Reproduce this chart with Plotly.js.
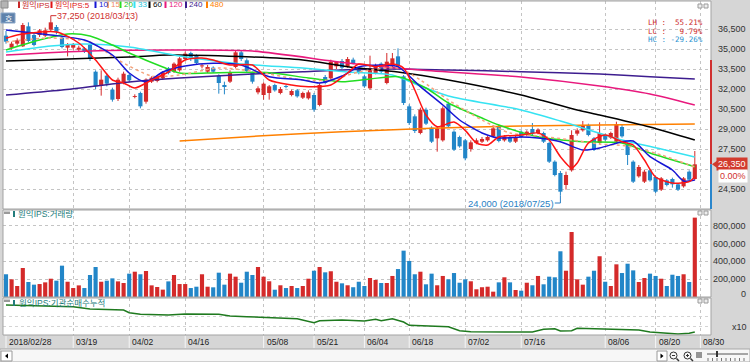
<!DOCTYPE html>
<html><head><meta charset="utf-8">
<script src="https://cdn.plot.ly/plotly-3.0.1.min.js"></script>
<style>html,body{margin:0;padding:0;background:#fff;}#chart{width:750px;height:362px;}</style>
</head><body><div id="chart"></div>
<script>
// ---------- data ----------
const openP = [36000,35100,35400,35200,36700,36050,36050,36000,36450,36650,
35850,35100,35100,34950,35050,35300,33300,32300,33000,31950,
31250,32450,33050,31400,31700,31050,32550,32600,32800,33550,
33300,33400,34250,34700,34500,33700,33300,33600,33000,32300,
32550,33650,34750,34150,33200,31750,31550,31700,32300,31700,
32200,31550,31900,31350,31300,31550,30800,32900,32800,33700,
34100,33700,34200,33550,32950,32050,33200,33900,32450,33700,
34450,32950,30700,29950,28700,30450,29100,28300,28150,30900,
28800,28400,28150,27500,27950,28050,28150,28450,29200,28150,
28400,28050,28800,28550,29000,28700,28700,27950,26550,25700,
24800,25900,28650,28900,29300,28300,27950,28550,28350,28050,
29150,27900,26550,25450,25050,25900,25400,24450,25150,25250,
24850,24700,25800,25250];
const highP = [36350,35550,35800,36950,37000,36200,36500,36600,37250,36800,
36000,35450,35450,35250,35150,35400,33400,33400,33150,32100,
32850,33300,33150,31600,31800,32800,32950,33000,33350,33650,
34000,34400,34800,34800,34600,33900,33800,33700,33100,32550,
33400,34850,34900,34300,33300,32200,32500,32300,32400,32150,
32300,31950,32000,31800,31900,31700,32450,33050,34200,34100,
34250,34400,34350,33650,33050,34500,33900,34000,34700,34700,
35050,33050,30850,30100,30600,30600,29200,29200,30700,31050,
28900,28500,28250,28150,28300,28400,28500,29300,29300,28550,
28500,28500,28900,28900,29450,29050,28800,28050,26650,25850,
25800,28900,29050,29600,29400,28400,29500,28650,28800,29550,
29300,28000,26650,26300,25950,26000,25500,25400,25250,25350,
24950,25400,25900,27350];
const lowP = [35400,34950,35250,35150,35500,35200,35900,35900,36350,36100,
35050,34450,34950,34850,34700,34100,32000,31500,32200,31050,
31100,32350,32500,31300,30550,30900,32450,32500,32700,33100,
33200,33300,34150,34100,33800,33550,33200,33200,31650,31600,
32450,33550,34100,33200,32400,31600,31200,31200,31800,31600,
32050,31450,31350,31250,31200,30300,30700,32350,32700,33500,
33500,33600,33850,33100,32100,31950,33100,33200,32350,33600,
33600,30800,29300,28700,28600,29300,27950,27300,28050,29100,
27350,27600,26650,27300,27850,27950,28050,28350,28000,28050,
27950,27950,28300,28450,28550,28600,27950,26450,25450,24000,
24450,25800,28500,28800,28450,27350,27850,28100,28250,27900,
28350,26300,24950,25350,24950,25050,24200,24350,24700,24600,
24350,24600,25100,25150];
const closeP = [35550,35400,35650,36800,35600,35300,36400,36400,37000,36300,
35150,35300,35300,35100,34800,34250,32200,32700,32400,31200,
32700,33150,32650,31450,30700,32700,32850,32900,33250,33200,
33900,34300,34650,34300,33950,33750,33650,33300,32450,32150,
33250,34750,34250,33350,32550,32050,32400,32200,31900,32000,
32150,31850,31450,31700,31750,30450,32300,32450,34050,34050,
33600,34250,33950,33200,32200,33550,33800,33300,34050,34300,
33700,30950,29450,28850,30450,29400,28050,29050,30550,29200,
27450,27700,26800,28000,28150,28250,28400,29050,28100,28450,
28050,28400,28400,28800,28650,28950,28050,26550,25550,24300,
25550,28550,28900,29300,28550,27450,28700,28200,28700,29350,
28450,27050,25050,26150,25800,25150,24300,25300,24800,24850,
24450,25300,25200,26350];
const volume = [256000,199000,124000,327000,169000,139000,146000,165000,206000,184000,
353000,172000,101000,131000,101000,248000,338000,172000,184000,210000,
176000,158000,263000,285000,256000,293000,131000,113000,83000,176000,
248000,146000,146000,101000,116000,256000,116000,109000,274000,139000,
263000,229000,161000,285000,248000,338000,229000,177000,82000,132000,
101000,124000,101000,124000,206000,296000,338000,278000,290000,172000,
154000,132000,110000,172000,124000,214000,192000,158000,158000,237000,
315000,522000,406000,256000,285000,143000,263000,132000,237000,199000,
270000,161000,199000,177000,87000,110000,116000,60000,165000,222000,
165000,79000,71000,161000,132000,237000,143000,229000,222000,515000,
296000,732000,199000,139000,229000,296000,459000,172000,124000,368000,
270000,375000,300000,169000,214000,263000,237000,206000,124000,251000,
237000,256000,169000,894000];

// moving-average lines, read at sample days
const ma5Idx = [0,2,9,13,16,19,21,23,26,29,32,35,37,40,44,47,51,54,58,61,63,66,69,71,73,75,77,80,82,84,86,88,92,95,97,99,101,102,104,107,110,112,114,116,119,122,123];
const ma5Val = [35800,36050,36275,35450,34175,32675,32450,32075,32675,33275,34175,34325,34175,33800,33800,32675,32300,32175,32300,33200,33875,33675,33875,33575,31925,30050,29175,29525,28900,27950,27800,28400,28550,28700,28175,26925,26075,26450,27950,28550,28050,27800,26675,25400,24950,25050,25400];
const ma10Idx = [0,8,14,19,22,25,28,32,37,42,47,53,56,60,63,67,70,74,78,81,85,88,92,95,99,103,106,110,112,115,119,121,123];
const ma10Val = [36425,36050,35675,34550,33200,32525,33275,33725,33925,33800,32925,32675,32450,32975,33650,33800,33675,32175,30800,29675,28700,28325,28400,28325,28050,27425,27575,28050,28100,26925,25925,25100,25175];
const ma15Idx = [0,8,15,20,26,31,38,45,53,58,63,70,74,79,85,90,95,101,106,111,117,123];
const ma15Val = [35525,35825,35525,34175,32975,33050,33575,33275,32675,32675,33275,33575,32675,31175,29675,28700,28475,28175,27875,27725,27050,26150];
const ma20Idx = [0,6,11,15,19,22,28,31,38,47,54,60,65,70,75,79,85,88,95,103,110,115,123];
const ma20Val = [34925,35675,36125,35975,35300,34700,33650,33200,33225,33225,32825,32550,32750,32925,32075,30950,29825,29300,28425,28050,27950,27200,26175];
const ma33Idx = [0,8,14,22,31,42,53,61,69,74,79,92,99,110,117,123];
const ma33Val = [34775,35225,35375,35150,34475,33875,33575,33275,33050,32225,31475,30425,29600,28175,27500,26900];
const ma60Idx = [0,22,29,44,53,61,70,79,92,102,106,115,123];
const ma60Val = [34100,34400,34550,34400,34175,33675,33275,32675,31550,30425,30050,29150,28175];
const ma120Idx = [0,15,31,44,61,74,92,106,115,123];
const ma120Val = [34550,34850,34925,34850,33950,33425,32900,32225,31625,30800];
const ma240Idx = [0,10,22,31,44,53,61,70,79,92,106,115,123];
const ma240Val = [31550,31925,32525,32825,33125,33300,33450,33500,33425,33300,33125,32925,32750];
const ma480Idx = [31,45,60,76,92,106,123];
const ma480Val = [28100,28475,28800,29050,29225,29300,29375];

// institutional cumulative net buying (arbitrary units, x10)
const invIdx = [0,12,15,21,22,24,29,32,38,40,43,47,52,55,56,60,64,66,67,69,71,72,75,79,81,83,89,94,96,98,99,101,102,104,106,113,115,118,120,122,123];
const invVal = [31,29.3,27,26,23.3,21.7,21,22,21.7,20,19.3,18.7,17.3,13.3,15.3,16,15,16.7,15.3,17.3,14,10.7,10,9.3,5.3,4.3,4,4,6.7,7.3,5,5.3,7.7,7.3,6.7,6,4,2.7,2,2.7,4];

const tickIdx = [0,12,22,32,46,55,64,72,82,92,107,116,124];
const tickLabels = ['2018/02/28','03/19','04/02','04/16','05/08','05/21','06/04','06/18','07/02','07/16','08/06','08/20','08/30'];
const priceTicks = [36500,35000,33500,32000,30500,29000,27500,26000,24500];
const volTicks = [800000,600000,400000,200000,0];
const highDate = '2018/03/13', lowDate = '2018/07/25';

// ---------- layout helpers ----------
const PL=3, PR=711, PT=1, PB=335;
const X = px => (px-PL)/(PR-PL);
const Y = py => (PB-py)/(PB-PT);
const RED='#d42a2a', BLUE='#2286c8';
const fmt = v => v.toLocaleString('en-US');

const days = closeP.map((_, i) => i);
const isUp = days.map(i => closeP[i] >= openP[i]);
const barCol = days.map(i => isUp[i] ? RED : BLUE);

function wicks(flag){
  const x=[], y=[];
  days.forEach(i => { if (isUp[i]===flag){ x.push(i,i,null); y.push(lowP[i],highP[i],null); } });
  return {x, y};
}
const wu = wicks(true), wd = wicks(false);

const traces = [];
traces.push({type:'scatter',mode:'lines',x:wu.x,y:wu.y,line:{color:RED,width:1},hoverinfo:'skip',xaxis:'x',yaxis:'y'});
traces.push({type:'scatter',mode:'lines',x:wd.x,y:wd.y,line:{color:BLUE,width:1},hoverinfo:'skip',xaxis:'x',yaxis:'y'});
traces.push({type:'bar',x:days,base:days.map(i=>Math.min(openP[i],closeP[i])),
  y:days.map(i=>Math.max(Math.abs(closeP[i]-openP[i]),70)),width:0.74,
  marker:{color:barCol,line:{width:0}},hoverinfo:'skip',xaxis:'x',yaxis:'y'});

const maSets = [
  {i:ma480Idx,v:ma480Val,c:'#ff8000',d:'solid'},
  {i:ma240Idx,v:ma240Val,c:'#3d1d8f',d:'solid'},
  {i:ma120Idx,v:ma120Val,c:'#e8197d',d:'solid'},
  {i:ma60Idx,v:ma60Val,c:'#000000',d:'solid'},
  {i:ma33Idx,v:ma33Val,c:'#36e3f2',d:'solid'},
  {i:ma20Idx,v:ma20Val,c:'#22dd22',d:'solid'},
  {i:ma15Idx,v:ma15Val,c:'#f5a37c',d:'3px,3px'},
  {i:ma10Idx,v:ma10Val,c:'#1616d4',d:'solid'},
  {i:ma5Idx,v:ma5Val,c:'#ff1414',d:'solid'}
];
maSets.forEach(m => traces.push({type:'scatter',mode:'lines',x:m.i,y:m.v,
  line:{color:m.c,width:1.5,dash:m.d,shape:'spline',smoothing:0.7},hoverinfo:'skip',xaxis:'x',yaxis:'y'}));

traces.push({type:'bar',x:days,y:volume,width:0.74,marker:{color:barCol,line:{width:0}},hoverinfo:'skip',xaxis:'x',yaxis:'y2'});
traces.push({type:'scatter',mode:'lines',x:invIdx,y:invVal,line:{color:'#1f7a1f',width:1.5},hoverinfo:'skip',xaxis:'x',yaxis:'y3'});

// ---------- annotations ----------
const ann = [];
const A = o => ann.push(Object.assign({showarrow:false,borderpad:0,xanchor:'left',yanchor:'middle'},o));
const KR = "'Liberation Sans', 'Noto Sans CJK KR', sans-serif";
const LAT = "'Liberation Sans', Arial, sans-serif";

// legend row
const legendItems = [
  {mx:18, tx:21, t:'원익IPS', c:'#c82828', mc:'#c82828'},
  {mx:50.5, tx:53.5, t:'원익IPS:5', c:'#e01414', mc:'#e01414'},
  {mx:94.5, tx:97.5, t:'10', c:'#1616d4', mc:'#1616d4'},
  {mx:107, tx:110, t:'15', c:'#f08a5c', mc:'#f5a37c'},
  {mx:119.5, tx:122.5, t:'20', c:'#18c018', mc:'#22dd22'},
  {mx:133.5, tx:136.5, t:'33', c:'#1cc4da', mc:'#36e3f2'},
  {mx:148.5, tx:151.5, t:'60', c:'#000000', mc:'#000000'},
  {mx:164.5, tx:167.5, t:'120', c:'#e8197d', mc:'#e8197d'},
  {mx:185, tx:188, t:'240', c:'#3d1d8f', mc:'#3d1d8f'},
  {mx:206, tx:209, t:'480', c:'#ff8000', mc:'#ff8000'}
];
legendItems.forEach(l => A({xref:'paper',yref:'paper',x:X(l.tx),y:Y(5),text:l.t,font:{family:KR,size:8,color:l.c}}));

// high / low markers
const hiVal = Math.max(...highP), loVal = Math.min(...lowP);
const hiI = highP.indexOf(hiVal), loI = lowP.indexOf(loVal);
const hiLabelY = 37500;
A({xref:'x',yref:'y',x:hiI+1,y:hiLabelY,text:fmt(hiVal)+' ('+highDate+')',font:{family:LAT,size:9,color:'#d03030'}});
A({xref:'x',yref:'y',x:loI-1,xanchor:'right',y:23450,text:fmt(loVal)+' ('+lowDate+')',font:{family:LAT,size:9.5,color:'#2a7fc4'}});

// LH / LC / HC
const last = closeP[closeP.length-1];
const pct = v => v.toFixed(2)+'%';
const pad = (s,n) => '\u00a0'.repeat(Math.max(0,n-s.length))+s;
const LH = pct((hiVal-loVal)/loVal*100), LC = pct((last-loVal)/loVal*100), HC = pct((last-hiVal)/hiVal*100);
const MONO = "'DejaVu Sans Mono', 'Liberation Mono', monospace";
A({xref:'paper',yref:'paper',x:X(704),xanchor:'right',y:Y(22.5),text:'LH\u00a0:'+pad(LH,8),font:{family:MONO,size:7.5,color:'#cc2b2b'}});
A({xref:'paper',yref:'paper',x:X(704),xanchor:'right',y:Y(31),text:'LC\u00a0:'+pad(LC,8),font:{family:MONO,size:7.5,color:'#cc2b2b'}});
A({xref:'paper',yref:'paper',x:X(704),xanchor:'right',y:Y(39.5),text:'HC\u00a0:'+pad(HC,8),font:{family:MONO,size:7.5,color:'#2a93d0'}});

// right axis labels
priceTicks.filter(v => v!==26000).forEach(v => A({xref:'paper',yref:'y',x:X(747),xanchor:'right',y:v,text:fmt(v),font:{family:LAT,size:9,color:'#333'}}));
volTicks.forEach(v => A({xref:'paper',yref:'y2',x:X(747),xanchor:'right',y:v,yshift:v===0?3:0,text:fmt(v),font:{family:LAT,size:9,color:'#333'}}));
A({xref:'paper',yref:'paper',x:X(748),xanchor:'right',y:Y(327),text:'x10',font:{family:LAT,size:9,color:'#333'}});

// current price box
A({xref:'paper',yref:'y',x:X(748),xanchor:'right',y:last,text:fmt(last),bgcolor:'#d23b2e',borderpad:1,font:{family:LAT,size:9,color:'#ffffff'}});
A({xref:'paper',yref:'paper',x:X(748),xanchor:'right',y:Y(176),text:'0.00%',bgcolor:'#ffffff',borderpad:1,font:{family:LAT,size:9,color:'#d03030'}});

// panel titles
A({xref:'paper',yref:'paper',x:X(17),y:Y(214),text:'원익IPS:거래량',font:{family:KR,size:8.5,color:'#237c7c'}});
A({xref:'paper',yref:'paper',x:X(17.5),y:Y(303),text:'원익IPS:기관순매수누적',font:{family:KR,size:8.5,color:'#237c7c'}});
A({xref:'paper',yref:'paper',x:X(8),xanchor:'center',y:Y(18),text:'호',font:{family:"'Noto Sans CJK KR', sans-serif",size:8,color:'#ffffff'}});

// date labels
tickIdx.forEach((t,k) => A({xref:'x',yref:'paper',x:t,xshift:2,y:Y(342),text:tickLabels[k],font:{family:LAT,size:8.5,color:'#222'}}));

// ---------- shapes ----------
const shapes = [];
const R = (x0,y0,x1,y1,o) => shapes.push(Object.assign({type:'rect',xref:'paper',yref:'paper',x0:X(x0),x1:X(x1),y0:Y(y0),y1:Y(y1),layer:'above',line:{width:0}},o));
const L = (x0,y0,x1,y1,c,w) => shapes.push({type:'line',xref:'paper',yref:'paper',x0:X(x0),x1:X(x1),y0:Y(y0),y1:Y(y1),layer:'above',line:{color:c,width:w||1}});

// panel frames
R(3,1,711,209,{line:{color:'#a3a3a3',width:1}});
R(3,210,711,297,{line:{color:'#a3a3a3',width:1}});
R(3,298,711,335,{line:{color:'#a3a3a3',width:1}});
// legend markers
legendItems.forEach(l => R(l.mx,1.5,l.mx+2,8,{fillcolor:l.mc}));
// corner icons
R(1,1,8,8,{fillcolor:'#b4b4b4',line:{color:'#8c8c8c',width:1}});
R(1,13,15,23,{fillcolor:'#5f82ab',line:{color:'#8aa6c8',width:1}});
R(4,211.5,10,214,{fillcolor:'#9a9a9a'});
R(4,299.5,10,302,{fillcolor:'#9a9a9a'});
R(13,211,15,217,{fillcolor:'#237c7c'});
R(13,300,15,306,{fillcolor:'#237c7c'});
[4,211,299].forEach(y => { R(698,y,702,y+4,{fillcolor:'#eeeeee',line:{color:'#9a9a9a',width:1}}); R(704,y,708,y+4,{fillcolor:'#eeeeee',line:{color:'#9a9a9a',width:1}}); });
// high/low pointer lines
shapes.push({type:'path',xref:'x',yref:'y',layer:'above',path:`M ${hiI},${hiVal} L ${hiI},${hiLabelY} L ${hiI+1},${hiLabelY}`,line:{color:'#d03030',width:1}});
shapes.push({type:'path',xref:'x',yref:'y',layer:'above',path:`M ${loI-1},23450 L ${loI},23450 L ${loI},${loVal}`,line:{color:'#2a7fc4',width:1}});
// right edge range bar
shapes.push({type:'line',xref:'paper',yref:'y',x0:X(711),x1:X(711),y0:34175,y1:last,layer:'above',line:{color:'#d03030',width:2}});
shapes.push({type:'line',xref:'paper',yref:'y',x0:X(711),x1:X(711),y0:last,y1:23000,layer:'above',line:{color:'#2a86cc',width:2}});
// price box pointer
shapes.push({type:'path',xref:'paper',yref:'y',layer:'above',path:`M ${X(712)},${last} L ${X(718)},${last+330} L ${X(718)},${last-330} Z`,fillcolor:'#d23b2e',line:{width:0}});
// date strip separators
tickIdx.forEach(t => shapes.push({type:'line',xref:'x',yref:'paper',x0:t,x1:t,y0:Y(336),y1:Y(348),layer:'above',line:{color:'#f6f6f6',width:1}}));
// bottom toolbar
R(0,349,750,362,{fillcolor:'#f7f7f7',line:{color:'#a9a9a9',width:1}});
R(1,351,12,361,{fillcolor:'#ffffff',line:{color:'#9a9a9a',width:1}});
shapes.push({type:'path',xref:'paper',yref:'paper',layer:'above',path:`M ${X(5)},${Y(356)} L ${X(8)},${Y(353.5)} L ${X(8)},${Y(358.5)} Z`,fillcolor:'#000',line:{width:0}});
R(657,351,667,361,{fillcolor:'#ffffff',line:{color:'#9a9a9a',width:1}});
shapes.push({type:'path',xref:'paper',yref:'paper',layer:'above',path:`M ${X(663.5)},${Y(356)} L ${X(660.5)},${Y(353.5)} L ${X(660.5)},${Y(358.5)} Z`,fillcolor:'#000',line:{width:0}});
shapes.push({type:'circle',xref:'paper',yref:'paper',x0:X(670),x1:X(677),y0:Y(352),y1:Y(359),layer:'above',line:{color:'#333',width:1}});
shapes.push({type:'circle',xref:'paper',yref:'paper',x0:X(684),x1:X(691),y0:Y(352),y1:Y(359),layer:'above',line:{color:'#333',width:1}});
L(672,355.5,675,355.5,'#333',1); L(686,355.5,689,355.5,'#333',1); L(687.5,354,687.5,357,'#333',1);
L(676.5,358.5,679,361,'#333',1.5); L(690.5,358.5,693,361,'#333',1.5);
L(697,352,697,358,'#333',1); L(699,352,699,358,'#333',1); L(701,352,701,358,'#333',1);
L(707,354,748,354,'#555',1); L(717,351,717,357,'#333',2);
for (let k=0;k<9;k++) L(708+k*4.5,358,708+k*4.5,361,'#777',1);

const layout = {
  width:750, height:362,
  margin:{l:3,r:39,t:1,b:27,pad:0},
  paper_bgcolor:'#d6d6d6', plot_bgcolor:'#ffffff',
  showlegend:false, barmode:'overlay', hovermode:false,
  font:{family:LAT,size:9,color:'#333'},
  xaxis:{range:[-0.5357,125.893],domain:[0,1],anchor:'y3',tickmode:'array',tickvals:tickIdx.slice(1),
    showticklabels:false,ticks:'',showgrid:true,gridcolor:'#c4c4c4',griddash:'dot',gridwidth:1,
    zeroline:false,showline:false,fixedrange:true},
  yaxis:{domain:[Y(209),1],range:[23000,38600],side:'right',tickmode:'array',tickvals:priceTicks,
    showticklabels:false,ticks:'',showgrid:true,gridcolor:'#c4c4c4',griddash:'dot',zeroline:false,showline:false,fixedrange:true},
  yaxis2:{domain:[Y(297),Y(210)],range:[0,980000],side:'right',tickmode:'array',tickvals:volTicks.filter(v=>v>0),
    showticklabels:false,ticks:'',showgrid:true,gridcolor:'#c4c4c4',griddash:'dot',zeroline:false,showline:false,fixedrange:true},
  yaxis3:{domain:[0,Y(298)],range:[1,38],side:'right',tickmode:'array',tickvals:[10,20],
    showticklabels:false,ticks:'',showgrid:true,gridcolor:'#d4d4d4',griddash:'dot',zeroline:false,showline:false,fixedrange:true},
  annotations:ann, shapes:shapes
};
Plotly.newPlot('chart', traces, layout, {staticPlot:true,displayModeBar:false});
</script></body></html>
